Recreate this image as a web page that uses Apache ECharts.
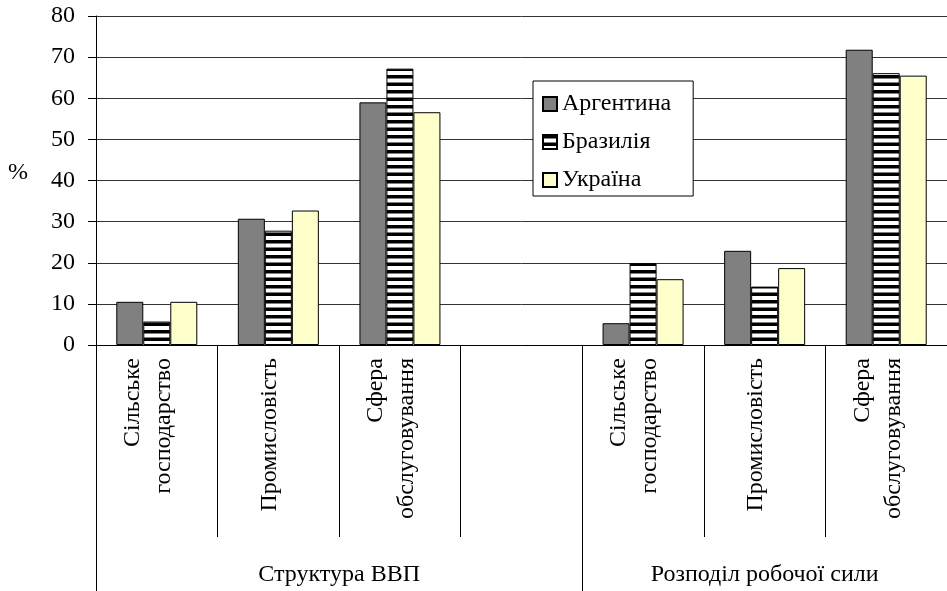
<!DOCTYPE html>
<html lang="uk">
<head>
    <meta charset="UTF-8">
    <title>Структура ВВП і розподіл робочої сили</title>
    <style>
        html, body { margin: 0; padding: 0; background: #fff; }
    </style>
</head>
<body>
<div id="main" style="width: 947px;height:591px;"></div>
<script type="text/javascript" src="https://cdn.jsdelivr.net/npm/echarts@6/dist/echarts.min.js"></script>
<script type="text/javascript">
    // дані
    var categories = ['Сільське\nгосподарство', 'Промисловість', 'Сфера\nобслуговування', '',
                      'Сільське\nгосподарство', 'Промисловість', 'Сфера\nобслуговування'];
    var groupNames = ['Структура ВВП', 'Розподіл робочої сили'];
    var groupSizes = [4, 3];
    var argentina = [10.5, 30.7, 59.0, '-', 5.3, 22.9, 71.8];
    var brazil    = [5.7, 27.8, 67.2, '-', 19.9, 14.2, 66.1];
    var ukraine   = [10.5, 32.7, 56.6, '-', 16.0, 18.7, 65.5];
    var seriesNames = ['Аргентина', 'Бразилія', 'Україна'];

    // межі груп і центри підписів
    var groupTicks = [0], groupCenters = [], acc = 0;
    groupSizes.forEach(function (n) {
        groupCenters.push(acc + n / 2);
        acc += n;
        groupTicks.push(acc);
    });

    // штриховка (горизонтальні смуги)
    var cv = document.createElement('canvas');
    cv.width = 8; cv.height = 15;
    var ctx = cv.getContext('2d');
    ctx.fillStyle = '#fff'; ctx.fillRect(0, 0, 8, 15);
    ctx.fillStyle = '#000';
    ctx.fillRect(0, 0, 8, 3.5);
    ctx.fillRect(0, 7.5, 8, 3.5);
    var stripes = { image: cv, repeat: 'repeat' };

    var font = 'Liberation Serif';
    var myChart = echarts.init(document.getElementById('main'), null, { renderer: 'canvas' });
    var option = {
        animation: false,
        textStyle: { fontFamily: font, color: '#000' },
        grid: { left: 96, top: 16, width: 854, height: 329 },
        graphic: [{
            type: 'text', left: 8, top: 161,
            style: { text: '%', fontFamily: font, fontSize: 24, fill: '#000' }
        }],
        legend: {
            orient: 'vertical',
            left: 533, top: 81,
            data: seriesNames,
            icon: 'rect',
            itemWidth: 14, itemHeight: 14,
            itemGap: 14, itemTextGap: 9,
            padding: [11, 22, 4, 9],
            borderColor: '#000', borderWidth: 1,
            backgroundColor: '#fff',
            textStyle: { fontFamily: font, fontSize: 24, color: '#000' }
        },
        xAxis: [{
            type: 'category',
            data: categories,
            axisLine: { lineStyle: { color: '#000', width: 1 } },
            axisTick: { show: true, interval: 0, length: 192, lineStyle: { color: '#000' } },
            axisLabel: {
                interval: 0, rotate: 90, margin: 13,
                fontFamily: font, fontSize: 24, lineHeight: 31, color: '#000',
                // порожній рядок зсуває підпис трохи ліворуч, як у Excel
                formatter: function (v) { return v + '\n{s| }'; },
                rich: { s: { fontSize: 4, lineHeight: 17 } }
            }
        }, {
            type: 'value',
            min: 0, max: groupTicks[groupTicks.length - 1],
            position: 'bottom',
            axisLine: { show: false },
            splitLine: { show: false },
            axisTick: { show: true, customValues: groupTicks, length: 246, lineStyle: { color: '#000' } },
            axisLabel: {
                customValues: groupCenters, margin: 218,
                fontFamily: font, fontSize: 24, color: '#000',
                formatter: function (v) {
                    return groupNames[groupCenters.indexOf(v)];
                }
            }
        }],
        yAxis: {
            type: 'value',
            min: 0, max: 80, interval: 10,
            axisLine: { show: true, lineStyle: { color: '#000' } },
            axisTick: { show: true, length: 8, lineStyle: { color: '#000' } },
            axisLabel: { margin: 21, fontFamily: font, fontSize: 24, color: '#000' },
            splitLine: { lineStyle: { color: '#333', width: 1 } }
        },
        series: [{
            name: seriesNames[0], type: 'bar', data: argentina,
            barWidth: 27, barGap: '0%',
            itemStyle: { color: '#808080', borderColor: '#000', borderWidth: 1 }
        }, {
            name: seriesNames[1], type: 'bar', data: brazil,
            barWidth: 27, barGap: '0%',
            itemStyle: { color: stripes, borderColor: '#000', borderWidth: 1 }
        }, {
            name: seriesNames[2], type: 'bar', data: ukraine,
            barWidth: 27, barGap: '0%',
            itemStyle: { color: '#FFFFCC', borderColor: '#000', borderWidth: 1 }
        }]
    };
    myChart.setOption(option);
</script>
</body>
</html>
